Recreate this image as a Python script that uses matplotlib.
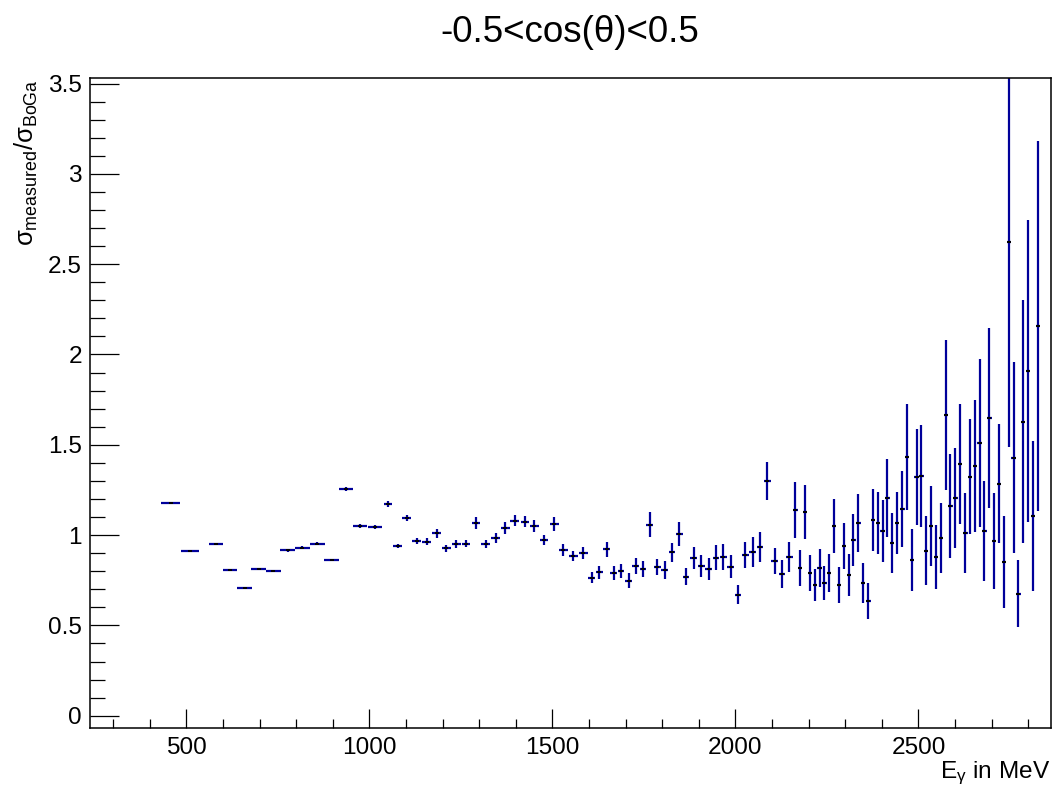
import matplotlib
matplotlib.use("Agg")
import matplotlib.pyplot as plt
from matplotlib.ticker import MultipleLocator, FormatStrFormatter

plt.rcParams['font.family'] = ['Liberation Sans', 'DejaVu Sans']
plt.rcParams['mathtext.fontset'] = 'custom'
plt.rcParams['mathtext.rm'] = 'Liberation Sans'
plt.rcParams['mathtext.it'] = 'Liberation Sans:italic'

# Photon energy bin centres (MeV)
energy = [
    457, 510, 581, 619, 659, 698, 738, 777, 817, 858, 897, 937, 975, 1015,
    1051, 1077, 1102, 1129, 1157, 1184, 1210, 1237, 1264, 1291, 1318, 1345,
    1371, 1397, 1425, 1451, 1477, 1505, 1530, 1557, 1584,
    1607, 1628, 1648, 1667, 1687, 1708, 1727, 1747, 1766, 1787, 1807, 1827,
    1847, 1865, 1886, 1907, 1927, 1947, 1967, 1987, 2007, 2027, 2047, 2067,
    2087, 2107, 2127, 2147,
    2164, 2177, 2190, 2204, 2217, 2230, 2243, 2256, 2270, 2283, 2296, 2310,
    2322, 2336, 2349, 2363, 2375, 2389, 2402, 2415, 2428, 2442, 2456, 2468,
    2482, 2495, 2508, 2521, 2535, 2548, 2561, 2575, 2587, 2601, 2614, 2628,
    2640, 2654, 2667, 2680, 2694, 2707, 2720, 2733, 2747, 2760, 2773, 2786,
    2800, 2813, 2826,
]

# Half bin widths (MeV)
energy_halfwidth = (
    [26, 25, 19, 19, 20, 20, 20, 20, 20, 20, 20, 19, 19, 20]
    + [12] * 21
    + [9] * 28
    + [6] * 51
)

# Measured / BoGa cross-section ratio
ratio = [
    1.179, 0.910, 0.949, 0.805, 0.705, 0.814, 0.803, 0.916, 0.930, 0.951,
    0.862, 1.255, 1.049, 1.045,
    1.171, 0.938, 1.093, 0.968, 0.963, 1.010, 0.927, 0.949, 0.951, 1.065,
    0.951, 0.982, 1.038, 1.080, 1.074, 1.050, 0.973, 1.060, 0.918, 0.886,
    0.899,
    0.765, 0.794, 0.921, 0.788, 0.803, 0.748, 0.831, 0.812, 1.056, 0.822,
    0.807, 0.905, 1.004, 0.770, 0.875, 0.831, 0.812, 0.875, 0.880, 0.825,
    0.670, 0.888, 0.908, 0.936, 1.300, 0.858, 0.786, 0.879,
    1.139, 0.820, 1.130, 0.788, 0.722, 0.820, 0.736, 0.788, 1.052, 0.722,
    0.938, 0.777, 0.971, 1.069, 0.733, 0.635, 1.085, 1.065, 1.021, 1.204,
    0.955, 1.065, 1.145, 1.432, 0.862, 1.323, 1.329, 0.914, 1.052, 0.879,
    0.982, 1.667, 1.163, 1.207, 1.395, 1.013, 1.323, 1.383, 1.512, 1.024,
    1.647, 0.969, 1.285, 0.853, 2.625, 1.427, 0.676, 1.628, 1.907, 1.106,
    2.156,
]

# Statistical uncertainty of the ratio
ratio_err = [
    0.005, 0.005, 0.005, 0.005, 0.005, 0.006, 0.006, 0.007, 0.007, 0.008,
    0.008, 0.012, 0.011, 0.011,
    0.017, 0.011, 0.017, 0.017, 0.019, 0.025, 0.019, 0.022, 0.019, 0.033,
    0.022, 0.028, 0.033, 0.030, 0.030, 0.033, 0.030, 0.039, 0.033, 0.028,
    0.033,
    0.033, 0.036, 0.042, 0.039, 0.039, 0.042, 0.044, 0.042, 0.069, 0.044,
    0.050, 0.053, 0.066, 0.046, 0.061, 0.061, 0.061, 0.068, 0.072, 0.065,
    0.054, 0.072, 0.083, 0.083, 0.105, 0.072, 0.078, 0.083,
    0.155, 0.100, 0.150, 0.100, 0.089, 0.105, 0.094, 0.105, 0.150, 0.100,
    0.127, 0.116, 0.144, 0.161, 0.111, 0.100, 0.172, 0.172, 0.172, 0.216,
    0.166, 0.172, 0.210, 0.293, 0.172, 0.266, 0.282, 0.191, 0.221, 0.177,
    0.194, 0.415, 0.288, 0.277, 0.332, 0.221, 0.318, 0.365, 0.465, 0.277,
    0.498, 0.266, 0.329, 0.255, 1.139, 0.529, 0.187, 0.672, 0.837, 0.415,
    1.025,
]

fig = plt.figure(figsize=(10.52, 7.89), dpi=100)
ax = fig.add_axes([0.0856, 0.0769, 0.9131, 0.8243])

ax.errorbar(energy, ratio, yerr=ratio_err, xerr=energy_halfwidth,
            fmt='none', ecolor='#00009a', elinewidth=1.6, capsize=0)
ax.plot(energy, ratio, linestyle='none', marker='_', markersize=3.4,
        markeredgewidth=1.4, color='black')

ax.set_xlim(237, 2861)
ax.set_ylim(-0.07, 3.531)

ax.xaxis.set_major_locator(MultipleLocator(500))
ax.xaxis.set_minor_locator(MultipleLocator(100))
ax.yaxis.set_major_locator(MultipleLocator(0.5))
ax.yaxis.set_minor_locator(MultipleLocator(0.1))
ax.xaxis.set_major_formatter(FormatStrFormatter('%g'))
ax.yaxis.set_major_formatter(FormatStrFormatter('%g'))

ax.tick_params(axis='both', which='both', direction='in', top=False,
               right=False, width=0.9, labelsize=17.6, colors='black')
ax.tick_params(axis='y', which='major', length=20.9, pad=5.8)
ax.tick_params(axis='y', which='minor', length=10.8)
ax.tick_params(axis='x', which='major', length=13.7, pad=6.5)
ax.tick_params(axis='x', which='minor', length=6.5)

for spine in ax.spines.values():
    spine.set_linewidth(1.1)
    spine.set_color('black')

fig.text(0.542, 1 - 42 / 789, '-0.5<cos(θ)<0.5', ha='center',
         va='baseline', fontsize=26.5)
fig.text(1050 / 1052, 11 / 789, r'$\mathregular{E_{γ}}$ in MeV',
         ha='right', va='baseline', fontsize=17.6)
fig.text(26 / 1052, 1 - 79 / 789,
         r'$\mathregular{σ_{measured}/σ_{BoGa}}$',
         rotation=90, ha='center', va='top', fontsize=18.4)

fig.savefig('out.png', dpi=100)
